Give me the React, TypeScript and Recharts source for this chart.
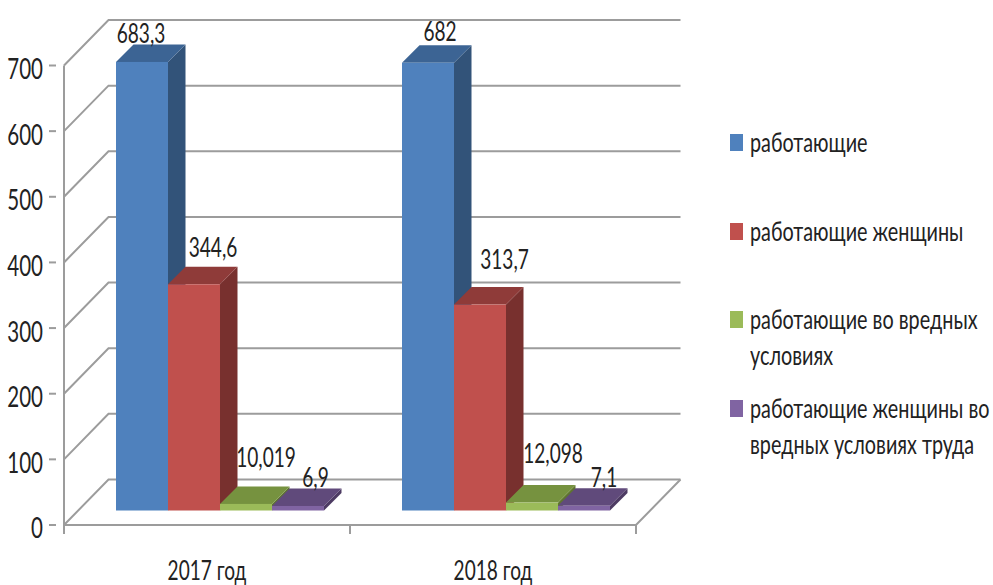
import React from 'react';
import { BarChart, Bar, XAxis, YAxis, CartesianGrid, Legend, LabelList } from 'recharts';

const categories = ['2017 год', '2018 год'];
const workers = [683.3, 682];
const women = [344.6, 313.7];
const hazardous = [10.019, 12.098];
const hazardousWomen = [6.9, 7.1];
const yTicks = [0, 100, 200, 300, 400, 500, 600, 700];

const chartData = categories.map((name, i) => ({
  name,
  workers: workers[i],
  women: women[i],
  hazardous: hazardous[i],
  hazardousWomen: hazardousWomen[i],
}));

const FONT = 'Lato, sans-serif';
const TEXT = '#222222';
const SQUEEZE = 0.72;
const GRID = '#9c9c9c';

// the legend box (263 wide) is taken off the plot width on top of this
const MARGIN = { top: 65.5, right: 94, bottom: 0, left: 0 };
const FLOOR_Y = 525;
// wall depth of the fake 3D box, and where bars stand on the floor
const WALL_DX = 44.5;
const WALL_DY = 45.5;
const BAR_DX = 13.5;
const BAR_DY = -14.5;
const BAR_DEPTH = 17.5;

const SqueezedText = ({ x, y, size, anchor = 'middle', children }: any) => (
  <text
    transform={`translate(${x},${y}) scale(${SQUEEZE},1)`}
    textAnchor={anchor}
    dominantBaseline="central"
    fontFamily={FONT}
    fontSize={size}
    fill={TEXT}
  >
    {children}
  </text>
);

// front face plus darker side and top
const makeBar3D = (front: string, side: string, top: string) => (props: any) => {
  const { x, y, width, height } = props;
  const l = x + BAR_DX;
  const r = l + width;
  const t = y + BAR_DY;
  const b = t + height;
  const d = BAR_DEPTH;
  return (
    <g>
      <polygon points={`${r},${t} ${r + d},${t - d} ${r + d},${b - d} ${r},${b}`} fill={side} />
      <polygon points={`${l},${t} ${l + d},${t - d} ${r + d},${t - d} ${r},${t}`} fill={top} />
      <rect x={l} y={t} width={width} height={Math.max(height, 0)} fill={front} />
    </g>
  );
};

const makeValueLabel = (shifts: number[][]) => (props: any) => {
  const { x, y, width, value, index } = props;
  const [sx, sy] = shifts[index];
  return (
    <SqueezedText x={x + BAR_DX + width / 2 + sx} y={y + BAR_DY + sy} size={26.5}>
      {String(value).replace('.', ',')}
    </SqueezedText>
  );
};

// each gridline runs up the left wall, then along the back wall
const WallLine = (props: any) => {
  const { x1, x2, y1 } = props;
  const isFloor = Math.abs(y1 - FLOOR_Y) < 1;
  return (
    <g stroke={GRID} strokeWidth={2} fill="none">
      <polyline points={`${x1},${y1} ${x1 + WALL_DX},${y1 - WALL_DY} ${x2 + WALL_DX},${y1 - WALL_DY}`} />
      {isFloor && <polyline points={`${x1},${y1} ${x2},${y1} ${x2 + WALL_DX},${y1 - WALL_DY}`} />}
    </g>
  );
};

const ValueTick = ({ x, y, payload }: any) => (
  <g>
    <line x1={x - 7} x2={x} y1={y} y2={y} stroke={GRID} strokeWidth={2} />
    <SqueezedText x={43} y={y + 2} size={28.5} anchor="end">
      {payload.value}
    </SqueezedText>
  </g>
);

// recharts hands the tick y a tick-size below the axis, hence the y - 8
const CategoryTick = ({ x, y, payload, index }: any) => {
  const band = 286;
  const axisY = y - 8;
  return (
    <g>
      <line x1={x - band / 2} x2={x - band / 2} y1={axisY} y2={axisY + 9} stroke={GRID} strokeWidth={2} />
      {index === categories.length - 1 && (
        <line x1={x + band / 2} x2={x + band / 2} y1={axisY} y2={axisY + 9} stroke={GRID} strokeWidth={2} />
      )}
      <SqueezedText x={x} y={570} size={26.5}>
        {payload.value}
      </SqueezedText>
    </g>
  );
};

const LegendList = ({ payload }: any) => (
  <div style={{ fontFamily: FONT, color: TEXT }}>
    {payload.map((entry: any) => (
      <div key={entry.value} style={{ height: 88.5, position: 'relative' }}>
        <span
          style={{ position: 'absolute', left: 0, top: 9, width: 13, height: 17, background: entry.color }}
        />
        <div
          style={{
            position: 'absolute',
            left: 20,
            top: -1,
            width: 246 / SQUEEZE,
            fontSize: 27.5,
            lineHeight: '36px',
            transform: `scaleX(${SQUEEZE})`,
            transformOrigin: 'left top',
          }}
        >
          {entry.value}
        </div>
      </div>
    ))}
  </div>
);

export default function App() {
  return (
    <div style={{ position: 'absolute', left: 0, top: 0, width: 993, height: 585, background: '#fff', overflow: 'hidden' }}>
      <BarChart
        width={993}
        height={585}
        data={chartData}
        margin={MARGIN}
        barGap={0}
        barCategoryGap={38.5}
      >
        <CartesianGrid vertical={false} horizontal={<WallLine />} />
        <XAxis
          dataKey="name"
          height={60}
          axisLine={{ stroke: GRID, strokeWidth: 2 }}
          tickLine={false}
          tick={<CategoryTick />}
          interval={0}
        />
        <YAxis
          width={64}
          domain={[0, 700]}
          ticks={yTicks}
          axisLine={{ stroke: GRID, strokeWidth: 2 }}
          tickLine={false}
          tick={<ValueTick />}
          interval={0}
        />
        <Legend
          layout="vertical"
          verticalAlign="top"
          align="right"
          itemSorter={null as any}
          content={<LegendList />}
          wrapperStyle={{ left: 730, top: 125, width: 263 }}
        />
        <Bar
          dataKey="workers"
          name="работающие"
          fill="#4f81bd"
          isAnimationActive={false}
          shape={makeBar3D('#4f81bd', '#325379', '#3c6494')}
        >
          <LabelList dataKey="workers" content={makeValueLabel([[-1, -29], [12, -32]])} />
        </Bar>
        <Bar
          dataKey="women"
          name="работающие женщины"
          fill="#c0504d"
          isAnimationActive={false}
          shape={makeBar3D('#c0504d', '#78302e', '#8f3b39')}
        >
          <LabelList dataKey="women" content={makeValueLabel([[19, -38], [24.5, -46]])} />
        </Bar>
        <Bar
          dataKey="hazardous"
          name="работающие во вредных условиях"
          fill="#9bbb59"
          isAnimationActive={false}
          shape={makeBar3D('#9bbb59', '#5f7530', '#76923f')}
        >
          <LabelList dataKey="hazardous" content={makeValueLabel([[20, -47], [21, -50]])} />
        </Bar>
        <Bar
          dataKey="hazardousWomen"
          name="работающие женщины во вредных условиях труда"
          fill="#8064a2"
          isAnimationActive={false}
          shape={makeBar3D('#8064a2', '#4d3b63', '#604a7b')}
        >
          <LabelList dataKey="hazardousWomen" content={makeValueLabel([[17.5, -29], [20, -29]])} />
        </Bar>
      </BarChart>
    </div>
  );
}
